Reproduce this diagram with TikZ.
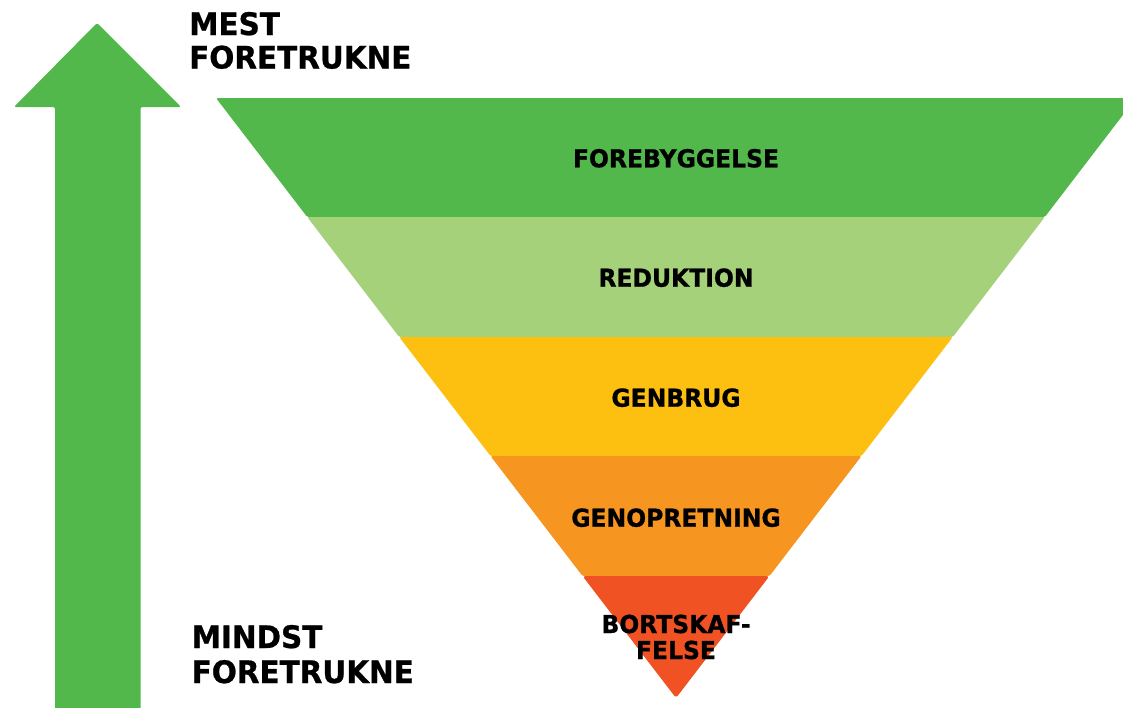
\documentclass[tikz,border=0pt]{standalone}
\usepackage{fontspec}
\newfontfamily\lblfont[FakeStretch=0.95,FakeBold=0.8]{DejaVu Sans Bold}
\definecolor{cgreen}{HTML}{52B84B}
\definecolor{clight}{HTML}{A4D179}
\definecolor{cyellow}{HTML}{FDC010}
\definecolor{corange}{HTML}{F6951F}
\definecolor{cred}{HTML}{F05224}
\tikzset{
  band/.style={rounded corners=1.5pt},
  bandlabel/.style={anchor=base, inner sep=0pt, font=\lblfont\fontsize{24.7}{25}\selectfont, text=black},
  sidelabel/.style={anchor=base west, inner sep=0pt, font=\lblfont\fontsize{31}{31}\selectfont, text=black},
}
\begin{document}
\begin{tikzpicture}[x=1pt,y=-1pt]
\useasboundingbox (0,0) rectangle (1123,707);
\clip (0,0) rectangle (1123,707);
% arrow
\fill[cgreen, rounded corners=2pt] (97,23) -- (181,107) -- (140.5,107) -- (140.5,712) -- (55,712) -- (55,107) -- (14,107) -- cycle;
% funnel bands
\fill[cgreen, band] (216,98) -- (1136,98) -- (1044.8,217) -- (307.2,217) -- cycle;
\fill[clight, band] (307.2,217) -- (1044.8,217) -- (952.8,337) -- (399.2,337) -- cycle;
\fill[cyellow, band] (399.2,337) -- (952.8,337) -- (861.5,456) -- (490.5,456) -- cycle;
\fill[corange, band] (490.5,456) -- (861.5,456) -- (769.5,576) -- (582.5,576) -- cycle;
\fill[cred, rounded corners=3pt] (582.5,576) -- (769.5,576) -- (676,698) -- cycle;
% labels
\node[bandlabel] (l1) at (676,167.3) {FOREBYGGELSE};
\node[bandlabel] (l2) at (676,286.7) {REDUKTION};
\node[bandlabel] (l3) at (676,406.7) {GENBRUG};
\node[bandlabel] (l4) at (676,526.7) {GENOPRETNING};
\node[bandlabel] (l5a) at (676,633) {BORTSKAF-};
\node[bandlabel] (l5b) at (676,659) {FELSE};
\node[sidelabel] (t1) at (189,35) {MEST};
\node[sidelabel] (t2) at (189,68.5) {FORETRUKNE};
\node[sidelabel] (b1) at (191.5,648) {MINDST};
\node[sidelabel] (b2) at (191.5,683) {FORETRUKNE};
\end{tikzpicture}
\end{document}
